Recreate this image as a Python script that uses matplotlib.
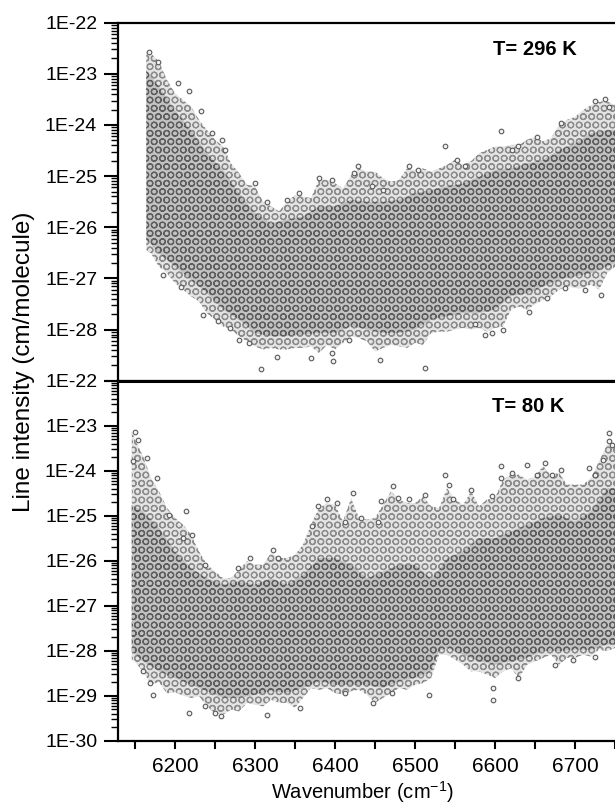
import matplotlib
matplotlib.use("Agg")
import matplotlib.pyplot as plt
import numpy as np
from matplotlib.ticker import FixedLocator, LogLocator, NullFormatter

plt.rcParams['font.family'] = ['Liberation Sans', 'DejaVu Sans']
plt.rcParams['hatch.linewidth'] = 0.85

# ---------------------------------------------------------
# Data: log10 of line intensity (cm/molecule)
# ---------------------------------------------------------
# T = 296 K : outer edge of the line cloud
hot_wn = [6164, 6170, 6180, 6190, 6200, 6210, 6220, 6230, 6240, 6250,
          6260, 6270, 6280, 6290, 6300, 6310, 6320, 6330, 6340, 6350,
          6360, 6370, 6380, 6390, 6400, 6410, 6420, 6430, 6440, 6450,
          6460, 6470, 6480, 6490, 6500, 6510, 6520, 6530, 6540, 6550,
          6560, 6570, 6580, 6590, 6600, 6610, 6620, 6630, 6640, 6650,
          6660, 6670, 6680, 6690, 6700, 6710, 6720, 6730, 6740, 6750]
hot_upper = [-22.57, -22.60, -22.76, -23.12, -23.38, -23.51, -23.64, -23.90, -24.10, -24.29,
             -24.42, -24.75, -24.94, -25.17, -25.20, -25.50, -25.59, -25.69, -25.50, -25.37,
             -25.40, -25.43, -25.07, -25.07, -25.14, -25.24, -24.98, -24.85, -24.91, -24.91,
             -25.04, -25.11, -25.07, -24.85, -24.88, -24.85, -24.91, -24.85, -24.78, -24.68,
             -24.78, -24.71, -24.55, -24.49, -24.42, -24.42, -24.39, -24.39, -24.29, -24.23,
             -24.32, -24.26, -24.00, -23.90, -23.84, -23.71, -23.61, -23.54, -23.54, -23.61]
hot_lower = [-26.44, -26.51, -26.77, -26.90, -27.09, -27.22, -27.35, -27.45, -27.68, -27.81,
             -27.94, -28.00, -28.13, -28.23, -28.33, -28.39, -28.36, -28.39, -28.39, -28.36,
             -28.36, -28.33, -28.46, -28.30, -28.39, -28.26, -28.13, -28.17, -28.23, -28.43,
             -28.36, -28.30, -28.33, -28.36, -28.26, -28.30, -28.07, -28.04, -28.04, -28.00,
             -27.97, -28.00, -27.97, -28.04, -27.97, -27.94, -27.61, -27.55, -27.61, -27.51,
             -27.42, -27.35, -27.22, -27.16, -27.19, -27.19, -27.12, -27.22, -26.90, -26.77]

# T = 296 K : dense core of the cloud
hot_core_wn = [6164, 6180, 6200, 6220, 6240, 6260, 6280, 6300, 6320, 6340,
               6360, 6380, 6400, 6420, 6440, 6460, 6480, 6500, 6520, 6540,
               6560, 6580, 6600, 6620, 6640, 6660, 6680, 6700, 6720, 6740, 6750]
hot_core_upper = [-22.92, -23.25, -23.71, -24.10, -24.55, -24.88, -25.33, -25.72, -25.92, -25.85,
                  -25.79, -25.59, -25.59, -25.46, -25.50, -25.50, -25.46, -25.33, -25.27, -25.20,
                  -25.14, -25.01, -24.88, -24.85, -24.75, -24.68, -24.49, -24.36, -24.16, -24.10, -24.10]
hot_core_lower = [-26.24, -26.51, -26.77, -27.03, -27.29, -27.61, -27.81, -28.07, -28.13, -28.13,
                  -28.10, -28.07, -28.07, -27.94, -28.00, -28.07, -28.07, -28.00, -27.81, -27.74,
                  -27.68, -27.68, -27.61, -27.35, -27.29, -27.16, -27.03, -26.96, -26.90, -26.77, -26.70]

# T = 296 K : isolated lines outside the cloud
hot_pts_wn = [6167, 6179, 6204, 6218, 6233, 6246, 6259, 6263, 6300, 6315,
              6340, 6355, 6380, 6396, 6424, 6429, 6185, 6208, 6235, 6254,
              6269, 6280, 6292, 6307, 6327, 6370, 6396, 6398, 6417, 6446,
              6456, 6460, 6492, 6504, 6513, 6537, 6552, 6563, 6575, 6588,
              6596, 6608, 6610, 6621, 6629, 6642, 6652, 6665, 6683, 6688,
              6712, 6725, 6733, 6738, 6742]
hot_pts_e = [-22.57, -22.76, -23.18, -23.33, -23.72, -24.16, -24.29, -24.49, -25.14, -25.50,
             -25.46, -25.33, -25.04, -25.07, -24.94, -24.81, -26.93, -27.16, -27.71, -27.84,
             -27.97, -28.20, -28.26, -28.78, -28.54, -28.56, -28.46, -28.62, -28.20, -25.20,
             -28.59, -25.27, -24.80, -24.88, -28.75, -24.41, -24.68, -24.80, -27.90, -28.10,
             -28.07, -24.11, -28.00, -24.49, -24.42, -27.66, -24.23, -27.38, -23.97, -27.19,
             -27.22, -23.53, -27.32, -23.50, -23.64]

# T = 80 K : outer edge of the line cloud
cold_wn = [6146, 6150, 6160, 6170, 6180, 6190, 6200, 6210, 6220, 6230,
           6240, 6250, 6260, 6270, 6280, 6290, 6300, 6310, 6320, 6330,
           6340, 6350, 6360, 6370, 6380, 6390, 6400, 6410, 6420, 6430,
           6440, 6450, 6460, 6470, 6480, 6490, 6500, 6510, 6520, 6530,
           6540, 6550, 6560, 6570, 6580, 6590, 6600, 6610, 6620, 6630,
           6640, 6650, 6660, 6670, 6680, 6690, 6700, 6710, 6720, 6730,
           6740, 6750]
cold_upper = [-23.13, -23.31, -23.68, -24.16, -24.46, -24.83, -25.05, -25.20, -25.42, -25.79,
              -26.09, -26.24, -26.39, -26.39, -26.20, -26.01, -26.09, -26.09, -25.83, -25.94,
              -25.94, -25.87, -25.64, -25.20, -24.83, -24.72, -24.76, -25.13, -24.61, -25.05,
              -25.09, -25.05, -24.76, -24.46, -24.64, -24.72, -24.72, -24.57, -24.79, -24.83,
              -24.39, -24.64, -24.76, -24.46, -24.79, -24.64, -24.61, -24.20, -24.09, -24.09,
              -24.20, -24.13, -23.90, -24.09, -24.05, -24.31, -24.31, -24.31, -24.16, -23.79,
              -23.42, -23.42]
cold_lower = [-28.20, -28.25, -28.46, -28.75, -28.70, -28.95, -28.92, -29.00, -29.05, -29.01,
              -29.24, -29.39, -29.42, -29.31, -29.35, -29.16, -29.20, -29.24, -29.09, -29.16,
              -29.16, -29.27, -29.05, -28.83, -28.87, -28.83, -28.94, -28.98, -28.90, -28.87,
              -28.98, -29.16, -29.05, -28.94, -28.83, -28.87, -28.76, -28.72, -28.61, -28.09,
              -28.09, -28.20, -28.31, -28.46, -28.46, -28.53, -28.61, -28.46, -28.39, -28.61,
              -28.31, -28.24, -28.16, -28.09, -28.31, -28.16, -28.16, -28.09, -28.13, -27.98,
              -28.01, -27.94]

# T = 80 K : dense core of the cloud
cold_core_wn = [6146, 6160, 6180, 6200, 6220, 6240, 6260, 6280, 6300, 6320,
                6340, 6360, 6380, 6400, 6420, 6440, 6460, 6480, 6500, 6520,
                6530, 6540, 6560, 6580, 6600, 6620, 6640, 6660, 6680, 6700,
                6720, 6740, 6750]
cold_core_upper = [-24.76, -24.90, -25.27, -25.79, -26.16, -26.39, -26.53, -26.46, -26.53, -26.39,
                   -26.53, -26.31, -25.94, -25.94, -26.09, -26.39, -26.24, -26.09, -26.09, -26.39,
                   -26.20, -25.94, -25.79, -25.50, -25.50, -25.35, -25.20, -25.05, -24.98, -25.13,
                   -24.90, -24.39, -24.39]
cold_core_lower = [-28.01, -28.24, -28.46, -28.61, -28.76, -28.90, -29.05, -29.05, -28.98, -28.90,
                   -28.94, -28.83, -28.68, -28.76, -28.76, -28.76, -28.83, -28.68, -28.61, -28.46,
                   -28.01, -27.94, -28.09, -28.24, -28.31, -28.24, -28.16, -28.01, -28.01, -27.98,
                   -27.98, -27.87, -27.85]

# T = 80 K : isolated lines outside the cloud
cold_pts_wn = [6150, 6154, 6148, 6165, 6177, 6192, 6214, 6210, 6221, 6238,
               6279, 6294, 6323, 6329, 6371, 6379, 6390, 6402, 6413, 6423,
               6433, 6160, 6173, 6169, 6218, 6237, 6250, 6258, 6315, 6356,
               6413, 6454, 6458, 6473, 6479, 6492, 6513, 6538, 6542, 6548,
               6570, 6596, 6608, 6608, 6621, 6640, 6652, 6663, 6671, 6683,
               6717, 6725, 6735, 6742, 6742, 6746, 6448, 6471, 6517, 6598,
               6598, 6629, 6675, 6698, 6725]
cold_pts_e = [-23.13, -23.31, -23.79, -23.72, -24.16, -24.98, -24.90, -25.50, -25.42, -26.09,
              -26.16, -25.94, -25.76, -25.94, -25.24, -24.79, -24.64, -24.72, -25.13, -24.50,
              -25.05, -28.46, -28.98, -28.72, -29.39, -29.24, -29.39, -29.46, -29.42, -29.27,
              -28.94, -25.13, -24.68, -24.35, -24.61, -24.64, -24.53, -24.09, -24.31, -24.64,
              -24.42, -24.57, -23.90, -24.16, -24.05, -23.87, -24.09, -23.83, -24.09, -23.98,
              -23.94, -24.09, -23.76, -23.35, -23.16, -23.42, -29.16, -28.94, -28.98, -28.83,
              -29.09, -28.61, -28.31, -28.20, -28.13]

x_major = [6200, 6300, 6400, 6500, 6600, 6700]
x_minor = [6150, 6250, 6350, 6450, 6550, 6650, 6750]

# ---------------------------------------------------------
# Figure
# ---------------------------------------------------------
fig = plt.figure(figsize=(6.15, 8.05), dpi=100)
ax_hot = fig.add_axes([0.1919, 0.5271, 0.8732, 0.4447])
ax_cold = fig.add_axes([0.1919, 0.0799, 0.8732, 0.4472])


def draw_cloud(ax, wn, lo, hi, cwn, clo, chi, pwn, pe):
    wn = np.asarray(wn)
    cwn = np.asarray(cwn)
    # outer, sparser part of the cloud
    ax.fill_between(wn, 10.0 ** np.asarray(lo), 10.0 ** np.asarray(hi),
                    facecolor='#e4e4e4', edgecolor='#8c8c8c', hatch='OO',
                    linewidth=0, zorder=1)
    # dense part
    ax.fill_between(cwn, 10.0 ** np.asarray(clo), 10.0 ** np.asarray(chi),
                    facecolor='#c2c2c2', edgecolor='#5e5e5e', hatch='OO',
                    linewidth=0, zorder=2)
    ax.scatter(pwn, 10.0 ** np.asarray(pe), s=11, facecolor='#f2f2f2',
               edgecolor='#5a5a5a', linewidths=0.8, zorder=3)


draw_cloud(ax_hot, hot_wn, hot_lower, hot_upper, hot_core_wn, hot_core_lower,
           hot_core_upper, hot_pts_wn, hot_pts_e)
draw_cloud(ax_cold, cold_wn, cold_lower, cold_upper, cold_core_wn, cold_core_lower,
           cold_core_upper, cold_pts_wn, cold_pts_e)

for ax, lo_exp in [(ax_hot, -29), (ax_cold, -30)]:
    ax.set_yscale('log')
    ax.set_ylim(10.0 ** lo_exp, 1e-22)
    ax.set_xlim(6128.75, 6800)
    majors = [10.0 ** k for k in range(lo_exp, -21)]
    ax.yaxis.set_major_locator(FixedLocator(majors))
    ax.yaxis.set_minor_locator(LogLocator(base=10, subs=np.arange(2, 10), numticks=20))
    ax.yaxis.set_minor_formatter(NullFormatter())
    ax.set_yticklabels(['' if (lo_exp == -29 and k == -29) else '1E%d' % k
                        for k in range(lo_exp, -21)])
    ax.tick_params(axis='y', which='major', direction='out', length=10, width=1.5,
                   labelsize=14, pad=5)
    ax.tick_params(axis='y', which='minor', direction='out', length=5, width=1.0)
    ax.spines['right'].set_visible(False)
    for s in ['left', 'top', 'bottom']:
        ax.spines[s].set_linewidth(1.6)

ax_hot.tick_params(axis='x', which='both', bottom=False, labelbottom=False)
ax_cold.xaxis.set_major_locator(FixedLocator(x_major))
ax_cold.xaxis.set_minor_locator(FixedLocator(x_minor))
ax_cold.set_xticklabels([str(v) for v in x_major])
ax_cold.tick_params(axis='x', which='both', direction='out', length=6, width=1.5,
                    labelsize=15, pad=6)
ax_cold.spines['top'].set_linewidth(2.2)

ax_hot.text(6650, 10 ** -22.52, 'T= 296 K', fontsize=14.5, fontweight='bold',
            ha='center', va='center')
ax_cold.text(6641, 10 ** -22.58, 'T= 80 K', fontsize=14.5, fontweight='bold',
             ha='center', va='center')

fig.text(362 / 615, 1 - 792 / 805, r'Wavenumber (cm$^{\mathregular{-1}}$)',
         fontsize=14.5, ha='center', va='center')
fig.text(24 / 615, 1 - 362 / 805, 'Line intensity (cm/molecule)', fontsize=17.5,
         rotation=90, ha='center', va='center')

fig.savefig('out.png', dpi=100)
